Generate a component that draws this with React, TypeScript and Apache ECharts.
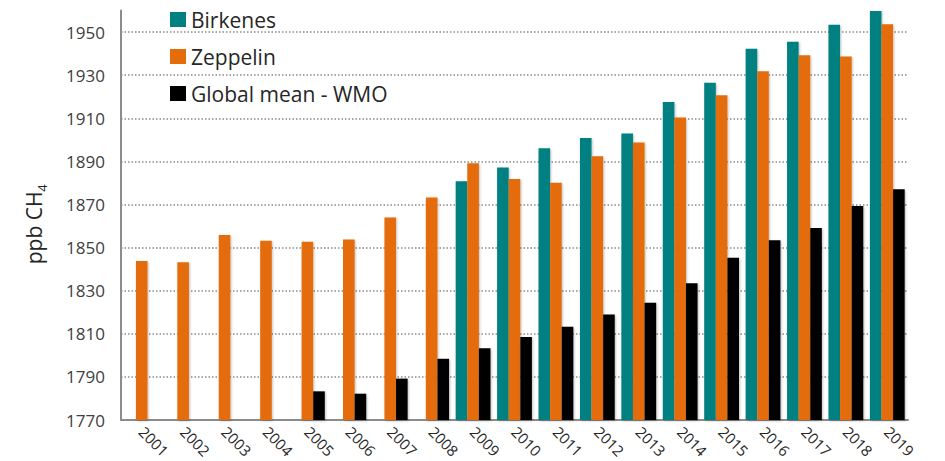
import React, { useEffect, useRef } from "react";
import * as echarts from "echarts";

const years = ["2001","2002","2003","2004","2005","2006","2007","2008","2009","2010","2011","2012","2013","2014","2015","2016","2017","2018","2019"];
const birkenes = [null,null,null,null,null,null,null,null,1880.8,1887.1,1896.1,1900.9,1902.9,1917.6,1926.5,1942.3,1945.5,1953.4,1959.8];
const zeppelin = [1843.8,1843.2,1855.8,1853.2,1852.7,1853.7,1863.9,1873.2,1889.1,1881.8,1880.1,1892.4,1898.7,1910.3,1920.7,1931.8,1939.2,1938.6,1953.6];
const globalMean = [null,null,null,null,1783.3,1782.2,1789.2,1798.4,1803.3,1808.5,1813.3,1819.0,1824.4,1833.4,1845.3,1853.4,1859.1,1869.3,1877.1];

const FONT = "'Open Sans', 'Noto Sans', sans-serif";

export default function App() {
  const ref = useRef<HTMLDivElement>(null);
  useEffect(() => {
    document.body.style.margin = "0";
    if (!ref.current) return;
    const chart = echarts.init(ref.current, undefined, { renderer: "svg" });
    const shadow = {
      shadowColor: "rgba(0,0,0,0.25)",
      shadowBlur: 2,
      shadowOffsetX: 1,
      shadowOffsetY: 1,
    };
    chart.setOption({
      animation: false,
      backgroundColor: "#ffffff",
      textStyle: { fontFamily: FONT },
      legend: {
        orient: "vertical",
        left: 170,
        top: 9,
        padding: 0,
        itemWidth: 16,
        itemHeight: 15,
        itemGap: 16,
        icon: "rect",
        textStyle: { fontSize: 21, color: "#262626", fontFamily: FONT, padding: [0, 0, 0, 0] },
        data: ["Birkenes", "Zeppelin", "Global mean - WMO"],
      },
      grid: {
        left: 121,
        right: 37,
        top: 10.5,
        bottom: 41,
        containLabel: false,
        outerBoundsMode: "none",
      },
      xAxis: {
        type: "category",
        data: years,
        axisLine: { show: true, lineStyle: { color: "#8c8c8c", width: 2 } },
        axisTick: { show: false },
        axisLabel: {
          rotate: -45,
          fontSize: 15,
          color: "#262626",
          fontFamily: FONT,
          margin: 9,
          interval: 0,
        },
      },
      yAxis: {
        type: "value",
        min: 1770,
        max: 1960,
        interval: 20,
        name: "{a|ppb CH}{b|4}",
        nameLocation: "middle",
        nameGap: 73,
        nameRotate: 90,
        nameTextStyle: {
          padding: [0, 0, 0, -18],
          rich: {
            a: { fontSize: 21, color: "#262626", fontFamily: FONT, lineHeight: 28 },
            b: { fontSize: 13, color: "#262626", fontFamily: FONT, verticalAlign: "bottom", lineHeight: 16, padding: [12, 0, 0, 0] },
          },
        },
        axisLine: { show: true, lineStyle: { color: "#8c8c8c", width: 2 } },
        axisTick: { show: false },
        axisLabel: {
          fontSize: 17,
          color: "#404040",
          fontFamily: FONT,
          margin: 16,
          showMaxLabel: false,
          formatter: (v: number) => String(v),
        },
        splitLine: {
          show: true,
          showMinLine: false,
          showMaxLine: false,
          lineStyle: { color: "#8a8a8a", width: 1.5, type: [1.5, 2] },
        },
      },
      series: [
        {
          name: "Birkenes",
          type: "bar",
          data: birkenes,
          barGap: "0%",
          barCategoryGap: "16%",
          itemStyle: { color: "#008080", ...shadow },
        },
        {
          name: "Zeppelin",
          type: "bar",
          data: zeppelin,
          itemStyle: { color: "#E46C0A", ...shadow },
        },
        {
          name: "Global mean - WMO",
          type: "bar",
          data: globalMean,
          itemStyle: { color: "#000000", ...shadow },
        },
      ],
    });
    return () => chart.dispose();
  }, []);
  return <div ref={ref} style={{ width: 945, height: 461 }} />;
}
